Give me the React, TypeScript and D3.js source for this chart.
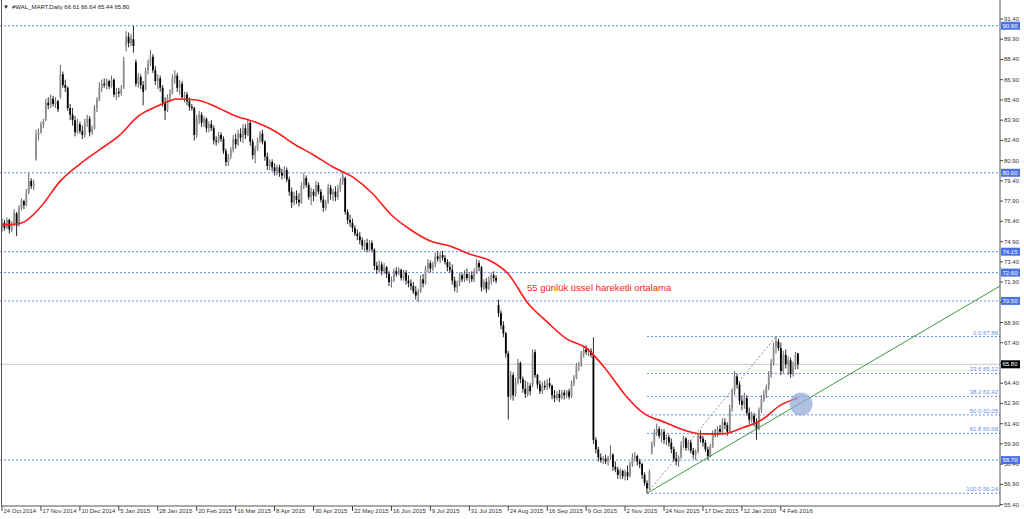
import * as d3 from "d3";

// daily candles [open, high, low, close], one per trading day from 24 Oct 2014
const candles: number[][] = [
  [75.9,76.6,75.6,76.3],[76.3,76.5,75.7,75.9],[75.9,76.7,75.8,76.5],[76.5,76.6,75.5,75.8],
  [75.8,76.4,75.6,76.2],[76.2,77.3,76.0,77.0],[77.0,77.1,75.3,76.1],[76.1,77.6,76.0,77.4],
  [77.4,78.1,77.2,77.9],[77.9,78.0,77.3,77.6],[77.6,78.8,77.5,78.5],[78.5,80.0,78.4,79.4],
  [79.4,79.6,78.8,79.0],[79.0,79.5,78.7,79.2],[81.0,83.2,80.9,82.8],[82.8,83.3,82.4,83.0],
  // 17 Nov 2014
  [83.0,83.8,82.9,83.6],[83.6,84.0,83.3,83.8],[83.9,85.5,83.8,85.2],[85.2,85.6,84.7,85.0],
  [85.0,85.8,84.8,85.5],[85.5,85.7,84.9,85.1],[85.1,85.6,84.8,85.3],[85.3,85.4,84.5,84.7],
  [85.6,88.0,85.5,87.3],[87.3,87.5,86.3,86.5],[86.5,86.9,86.0,86.3],[86.3,86.4,84.6,84.8],
  [84.8,85.1,83.9,84.3],[84.3,84.8,83.5,83.9],[83.9,84.2,82.7,83.0],[83.0,84.0,82.9,83.6],
  // 10 Dec 2014
  [83.6,83.8,82.9,83.1],[83.1,83.5,82.5,82.8],[82.8,84.0,82.6,83.7],[83.7,84.3,83.4,84.0],
  [84.0,84.2,82.7,83.0],[83.0,83.5,82.8,83.3],[83.3,85.0,83.2,84.8],[84.8,85.6,84.5,85.4],
  [85.4,86.7,85.3,86.3],[86.3,86.9,86.0,86.6],[86.6,87.0,86.3,86.5],[86.5,87.0,86.2,86.8],
  [86.8,86.9,86.2,86.4],[86.4,87.2,86.3,86.9],[86.9,87.0,85.6,85.8],[85.8,86.3,85.4,86.0],
  // 5 Jan 2015
  [86.0,86.3,85.6,85.9],[85.9,86.5,85.7,86.2],[86.3,88.6,86.2,88.3],[89.4,90.5,89.0,90.1],
  [90.1,90.4,89.3,89.6],[89.6,90.3,89.4,90.0],[89.9,90.9,88.9,89.4],[88.2,88.4,86.4,86.6],
  [86.6,87.4,86.3,87.1],[87.1,87.3,86.2,86.5],[86.5,86.8,85.0,86.0],[86.2,87.8,86.1,87.6],
  [87.6,88.4,87.3,88.1],[88.1,89.1,87.9,88.6],[88.6,88.8,87.4,87.6],[87.6,87.9,86.5,86.8],
  // 28 Jan 2015
  [86.8,87.3,86.2,87.0],[87.0,87.2,86.0,86.3],[86.3,86.5,84.9,85.2],[85.2,85.6,83.9,84.6],
  [84.6,85.8,84.5,85.6],[85.6,86.2,85.2,85.9],[85.9,87.3,85.8,87.0],[87.0,87.6,86.6,87.2],
  [87.2,87.4,86.0,86.3],[86.3,86.9,85.8,86.6],[86.6,86.8,85.4,85.6],[85.6,86.0,85.2,85.8],
  [85.8,86.0,85.0,85.3],[85.3,85.6,84.6,84.9],[84.9,85.1,84.6,84.8],[84.8,84.9,82.4,82.8],
  // 20 Feb 2015
  [82.8,84.3,82.6,84.0],[84.0,84.6,83.6,84.3],[84.3,84.5,83.4,83.7],[83.7,84.2,83.4,84.0],
  [84.0,84.1,83.0,83.3],[83.3,83.8,83.0,83.6],[83.6,83.9,83.1,83.3],[83.3,83.5,82.1,82.4],
  [82.4,82.7,82.0,82.3],[82.3,83.0,82.2,82.8],[82.8,83.0,82.3,82.5],[82.5,82.7,81.4,81.6],
  [81.6,81.8,80.5,80.8],[80.8,81.4,80.5,81.2],[81.2,81.9,81.0,81.7],[81.7,82.8,81.5,82.5],
  // 16 Mar 2015
  [82.5,82.9,81.8,82.1],[82.1,83.2,82.0,82.9],[82.9,83.3,82.3,82.6],[82.6,83.6,82.2,83.3],
  [83.3,83.6,82.5,82.8],[82.8,84.0,82.7,83.7],[83.7,83.9,82.0,82.3],[82.3,82.5,81.0,81.3],
  [81.3,82.0,80.7,81.8],[81.8,82.6,81.6,82.4],[82.4,83.1,82.2,82.9],[82.9,83.2,82.1,82.3],
  [82.3,82.4,80.9,81.2],[81.2,81.5,80.2,80.5],[80.5,81.0,80.2,80.8],[80.8,81.0,80.1,80.4],
  // 8 Apr 2015
  [80.4,80.7,79.8,80.1],[80.1,80.6,79.8,80.4],[80.4,80.6,79.7,80.0],[80.0,80.3,79.5,79.8],
  [79.8,80.5,79.6,80.2],[80.2,80.4,79.3,79.5],[79.5,79.7,78.3,78.6],[78.6,78.9,77.4,77.8],
  [77.8,78.6,77.6,78.3],[78.3,78.7,77.7,78.0],[78.0,78.5,77.5,77.8],[77.8,79.3,77.7,79.0],
  [79.0,80.0,78.8,79.6],[79.6,79.8,78.9,79.1],[79.1,79.3,78.0,78.2],[78.2,78.9,77.6,78.6],
  // 30 Apr 2015
  [78.6,78.8,77.9,78.3],[78.3,79.4,78.2,79.1],[79.1,79.3,78.4,78.6],[78.6,78.8,77.8,78.0],
  [78.0,78.3,77.1,77.4],[77.4,78.0,77.2,77.8],[77.8,79.2,77.7,78.9],[78.9,79.1,78.0,78.4],
  [78.4,78.8,77.9,78.6],[78.6,79.0,77.9,78.2],[78.2,79.1,78.0,78.8],[78.8,79.6,78.6,79.3],
  [79.3,80.1,79.1,79.8],[79.6,79.7,76.9,77.1],[77.1,77.3,76.2,76.5],[76.5,76.9,76.0,76.3],
  // 22 May 2015
  [76.3,76.6,75.6,75.9],[75.9,76.1,75.3,75.5],[75.5,75.8,75.0,75.3],[75.3,75.6,74.7,75.0],
  [75.0,75.2,74.3,74.6],[74.6,75.0,74.2,74.8],[74.8,75.1,74.1,74.3],[74.3,75.0,74.2,74.8],
  [74.8,75.0,74.1,74.3],[74.3,74.4,72.8,73.1],[73.1,73.4,72.5,72.8],[72.8,73.5,72.6,73.2],
  [73.2,73.4,72.4,72.7],[72.7,73.3,72.5,73.0],[73.0,73.1,72.2,72.5],[72.5,72.7,71.6,71.9],
  // 16 Jun 2015
  [71.9,72.3,71.5,72.0],[72.0,72.9,71.9,72.7],[72.7,73.0,72.3,72.5],[72.5,73.0,72.4,72.8],
  [72.8,72.9,72.0,72.2],[72.2,72.8,72.0,72.6],[72.6,72.8,71.7,72.0],[72.0,72.4,71.5,71.8],
  [71.8,72.1,71.3,71.6],[71.6,71.9,71.0,71.2],[71.2,71.6,70.6,70.9],[70.9,71.4,70.4,71.2],
  [71.2,72.4,71.1,72.1],[72.1,72.5,71.5,71.8],[71.8,73.1,71.7,72.9],[72.9,73.6,72.6,73.3],
  // 9 Jul 2015
  [73.3,73.5,72.6,72.9],[72.9,73.4,72.7,73.2],[73.2,74.1,73.0,73.8],[73.8,74.2,73.4,73.6],
  [73.6,74.1,73.3,73.9],[73.9,74.2,73.5,73.7],[73.7,73.9,73.2,73.4],[73.4,73.6,72.7,73.0],
  [73.0,73.4,72.6,72.8],[72.8,73.2,71.7,72.0],[72.0,72.3,71.2,71.5],[71.5,72.0,71.1,71.8],
  [71.8,72.6,71.6,72.4],[72.4,72.6,71.9,72.1],[72.1,72.8,71.9,72.5],[72.5,72.9,72.0,72.2],
  // 31 Jul 2015
  [72.2,72.6,71.8,72.4],[72.4,72.7,71.9,72.1],[72.1,72.9,71.9,72.7],[72.7,73.6,72.5,73.3],
  [73.3,73.5,72.7,73.0],[73.0,73.1,71.2,71.5],[71.5,72.1,71.3,71.9],[71.9,72.2,71.1,71.4],
  [71.4,72.3,71.3,72.0],[72.0,72.6,71.7,72.4],[72.4,72.7,71.9,72.2],[72.2,72.4,71.8,72.0],
  [70.2,70.6,69.3,69.6],[69.6,69.8,68.4,68.7],[68.7,69.0,67.8,68.1],[68.1,68.2,66.3,66.6],
  // 24 Aug 2015
  [66.6,66.8,61.7,63.4],[63.4,65.3,63.2,65.0],[65.0,65.2,63.1,63.5],[63.6,64.8,63.4,64.5],
  [64.5,66.2,64.3,65.9],[65.9,66.0,64.4,64.7],[64.7,64.9,63.7,64.0],[64.0,64.6,63.3,63.6],
  [63.6,64.5,63.4,64.2],[64.2,64.4,63.5,63.8],[64.3,66.9,64.1,66.7],[66.7,66.9,64.8,65.0],
  [65.0,65.1,64.0,64.3],[64.3,64.6,63.6,63.8],[63.8,64.5,63.6,64.2],[64.2,64.6,63.9,64.1],
  // 16 Sep 2015
  [64.1,64.7,63.9,64.4],[64.4,64.8,64.0,64.2],[64.2,64.3,63.2,63.5],[63.5,63.9,63.0,63.3],
  [63.3,63.8,63.1,63.6],[63.6,63.9,63.0,63.3],[63.3,63.9,63.2,63.7],[63.7,63.9,63.2,63.5],
  [63.5,63.9,63.3,63.8],[63.8,64.0,63.2,63.4],[63.4,64.6,63.3,64.4],[64.4,65.0,64.2,64.8],
  [64.8,65.9,64.7,65.7],[65.7,66.0,65.3,65.8],[65.8,66.8,65.6,66.6],[66.6,67.1,66.3,66.9],
  // 9 Oct 2015
  [66.9,67.2,66.5,66.7],[66.7,67.0,66.4,66.8],[66.8,67.0,66.3,66.5],[66.5,67.8,59.9,60.2],
  [60.2,60.4,59.2,59.5],[59.5,59.7,58.6,58.9],[58.9,59.2,58.5,58.7],[58.7,59.0,58.4,58.8],
  [58.8,59.1,58.4,58.6],[58.6,59.0,58.3,58.9],[58.9,59.8,58.7,59.1],[59.1,59.2,57.9,58.2],
  [58.2,58.6,57.8,58.0],[58.0,58.2,57.3,57.6],[57.6,58.1,57.3,57.9],[57.9,58.0,57.3,57.5],
  // 2 Nov 2015
  [57.5,58.0,57.2,57.8],[57.8,58.3,57.2,57.5],[57.5,58.6,57.4,58.4],[58.4,59.2,58.2,58.9],
  [58.9,59.3,58.6,59.0],[59.0,59.1,58.3,58.6],[58.6,58.8,58.1,58.4],[58.4,58.5,57.3,57.6],
  [57.6,57.8,56.8,57.0],[57.0,57.2,56.24,56.6],[56.6,58.0,56.5,57.8],[59.3,60.1,59.1,59.9],
  [59.9,61.0,59.7,60.7],[60.7,61.4,60.5,61.0],[61.0,61.2,60.3,60.5],[60.5,61.0,60.0,60.8],
  // 24 Nov 2015
  [60.8,61.0,59.9,60.2],[60.2,60.6,59.8,60.4],[60.4,60.6,59.7,60.0],[60.0,60.3,59.2,59.5],
  [59.5,59.7,58.6,58.8],[58.8,59.3,58.3,58.6],[58.6,59.0,58.2,58.9],[58.9,60.1,58.8,59.8],
  [59.8,60.5,59.6,60.3],[60.3,60.4,59.4,59.6],[59.6,60.2,59.4,60.0],[60.0,60.2,59.2,59.4],
  [59.4,59.6,58.8,59.1],[59.1,59.5,58.7,59.3],[59.3,60.7,59.2,60.5],[60.5,60.9,60.0,60.3],
  // 17 Dec 2015
  [60.3,60.5,59.7,60.0],[60.0,60.2,59.3,59.5],[59.5,59.7,58.7,59.0],[59.0,59.9,58.9,59.7],
  [59.7,60.9,59.6,60.7],[60.7,61.0,60.4,60.6],[60.6,61.2,60.4,61.0],[61.0,61.3,60.6,60.8],
  [60.8,61.8,60.7,61.5],[61.5,61.8,61.0,61.3],[61.3,61.5,60.5,60.8],[60.8,62.8,60.7,62.5],
  [62.5,64.0,62.3,63.8],[63.8,65.3,63.5,64.9],[64.9,65.1,64.0,64.3],[64.3,64.5,62.8,63.1],
  // 12 Jan 2016
  [63.1,63.5,62.4,62.8],[62.8,63.7,62.5,63.3],[63.3,63.5,62.0,62.2],[62.2,62.6,61.4,61.7],
  [61.7,62.3,61.5,62.0],[62.0,62.2,61.2,61.5],[61.5,61.8,60.2,61.0],[61.0,62.6,60.9,62.4],
  [62.4,63.5,62.2,63.2],[63.2,63.9,63.0,63.6],[63.6,64.3,63.3,64.1],[64.1,65.3,63.9,65.0],
  [65.0,66.2,64.8,65.9],[65.9,67.4,65.7,67.1],[67.1,67.86,66.6,67.5],[67.5,67.7,66.8,67.0],
  // 4 Feb 2016
  [67.0,67.4,65.0,65.3],[65.3,66.8,65.1,66.5],[66.5,66.9,65.5,65.8],[65.8,66.4,65.0,66.1],
  [66.1,66.3,64.8,65.1],[65.1,66.0,64.9,65.6],[65.6,66.7,65.4,66.5],[66.61,66.64,65.44,65.8],
];

// 55-day EMA, every 8th bar
const emaBars = [0,8,16,24,32,40,48,56,64,72,80,88,96,104,112,120,128,136,144,152,160,168,176,184,192,200,208,216,224,232,240,248,256,264,272,280,288,296,304,312,320,327];
const emaValues = [76.13,76.28,77.5,79.4,80.65,81.7,82.73,84.2,84.95,85.47,85.4,84.88,84.21,83.76,83.1,82.13,81.32,80.43,79.69,78.5,76.87,75.76,74.94,74.57,73.98,73.53,72.5,70.35,68.94,67.68,67.01,65.46,63.53,62.12,61.53,60.93,60.64,60.64,61.08,61.67,62.79,63.31];

const dateLabels = ["24 Oct 2014","17 Nov 2014","10 Dec 2014","5 Jan 2015","28 Jan 2015","20 Feb 2015","16 Mar 2015","8 Apr 2015","30 Apr 2015","22 May 2015","16 Jun 2015","9 Jul 2015","31 Jul 2015","24 Aug 2015","16 Sep 2015","9 Oct 2015","2 Nov 2015","24 Nov 2015","17 Dec 2015","12 Jan 2016","4 Feb 2016"];

const priceTicks = [91.4,89.9,88.4,86.9,85.4,83.9,82.4,80.9,79.4,77.9,76.4,74.9,73.4,71.9,70.4,68.9,67.4,65.9,64.4,62.9,61.4,59.9,58.4,56.9,55.4];

// horizontal support / resistance lines
const levels = [90.9, 80.0, 74.15, 72.6, 70.5, 58.7];

// fibonacci retracement from the Nov low to the Feb high
const fibRatios = ["0.0", "23.6", "38.2", "50.0", "61.8", "100.0"];
const fibPrices = [67.86, 65.12, 63.42, 62.05, 60.68, 56.24];
const fibLowBar = 265;
const fibHighBar = 318;

// trend line from the low, extended to the right edge
const trendBars = [265, 410];
const trendPrices = [56.24, 71.6];

const lastPrice = 65.8;
const markerBar = 328.3;
const markerPrice = 62.85;

const FONT = "'Liberation Sans', Arial, sans-serif";
const BLUE = "#6a8ce8";

export default function App() {
  const width = 1024;
  const height = 519;
  const plotRight = 1000;
  const plotBottom = 506;

  const x = d3.scaleLinear().domain([0, 327]).range([2, 797.9]);
  const y = d3.scaleLinear().domain([55.4, 91.4]).range([504.6, 19]);

  const emaPath = d3
    .line<number>()
    .x((_, i) => x(emaBars[i]))
    .y((d) => y(d))
    .curve(d3.curveMonotoneX)(emaValues);

  const bodyW = 1.8;

  return (
    <svg
      width={width}
      height={height}
      style={{ position: "fixed", top: 0, left: 0, background: "#fff" }}
      fontFamily={FONT}
    >
      <rect width={width} height={height} fill="#fff" />

      {/* level lines */}
      {levels.map((l) => (
        <line key={l} x1={0} x2={plotRight} y1={y(l)} y2={y(l)} stroke={BLUE} strokeWidth={1} strokeDasharray="2,2" />
      ))}
      {/* last price line */}
      <line x1={0} x2={plotRight} y1={y(lastPrice)} y2={y(lastPrice)} stroke="#c8c8c8" strokeWidth={1} />

      {/* fibonacci */}
      {fibPrices.map((p, i) => (
        <g key={p}>
          <line x1={x(fibLowBar)} x2={plotRight} y1={y(p)} y2={y(p)} stroke={BLUE} strokeWidth={1} strokeDasharray="2,2" />
          <text x={plotRight - 2} y={y(p) - 2} textAnchor="end" fontSize={6} fill={BLUE}>
            {fibRatios[i]} {p.toFixed(2)}
          </text>
        </g>
      ))}
      <line
        x1={x(fibLowBar)}
        y1={y(fibPrices[5])}
        x2={x(fibHighBar)}
        y2={y(fibPrices[0])}
        stroke="#8c8c8c"
        strokeWidth={1}
        strokeDasharray="2,2"
      />

      {/* candles */}
      {candles.map(([o, h, l, c], i) => {
        const up = c >= o;
        const top = y(Math.max(o, c));
        const bh = Math.max(0.8, Math.abs(y(o) - y(c)));
        return (
          <g key={i}>
            <line x1={x(i)} x2={x(i)} y1={y(h)} y2={y(l)} stroke={up ? "#555" : "#111"} strokeWidth={0.9} />
            <rect x={x(i) - bodyW / 2} y={top} width={bodyW} height={bh} fill={up ? "#8e8e8e" : "#000"} />
          </g>
        );
      })}

      {/* trend line */}
      <line
        x1={x(trendBars[0])}
        y1={y(trendPrices[0])}
        x2={x(trendBars[1])}
        y2={y(trendPrices[1])}
        stroke="#3c9a3c"
        strokeWidth={1}
      />

      {/* EMA 55 */}
      <path d={emaPath ?? ""} fill="none" stroke="#ff1a1a" strokeWidth={1.6} />
      <text x={527} y={291} fontSize={9.5} fill="#ff2020">
        55 günlük üssel hareketli ortalama
      </text>

      <circle cx={x(markerBar)} cy={y(markerPrice)} r={11.5} fill="#8ea8d8" opacity={0.7} />

      {/* frame and axes */}
      <line x1={1.5} x2={1.5} y1={0} y2={plotBottom} stroke="#555" strokeWidth={1} />
      <line x1={plotRight} x2={plotRight} y1={0} y2={plotBottom} stroke="#555" strokeWidth={1} />
      <line x1={1} x2={plotRight} y1={plotBottom} y2={plotBottom} stroke="#555" strokeWidth={1} />

      {priceTicks.map((t) => (
        <g key={t}>
          <line x1={plotRight} x2={plotRight + 3} y1={y(t)} y2={y(t)} stroke="#444" />
          <text x={plotRight + 4} y={y(t) + 2} fontSize={6} fill="#333">
            {t.toFixed(2)}
          </text>
        </g>
      ))}
      {levels.map((l) => (
        <g key={"b" + l}>
          <rect x={plotRight + 1} y={y(l) - 4} width={19} height={8} fill="#4a72e6" />
          <text x={plotRight + 2.5} y={y(l) + 2} fontSize={6} fill="#fff">
            {l.toFixed(2)}
          </text>
        </g>
      ))}
      <rect x={plotRight + 1} y={y(lastPrice) - 4} width={19} height={8} fill="#000" />
      <text x={plotRight + 2.5} y={y(lastPrice) + 2} fontSize={6} fill="#fff">
        {lastPrice.toFixed(2)}
      </text>

      {dateLabels.map((d, k) => (
        <g key={d}>
          <line x1={x(k * 16)} x2={x(k * 16)} y1={plotBottom} y2={plotBottom + 5} stroke="#444" />
          <text x={x(k * 16) + 1.5} y={513} fontSize={6} fill="#333">
            {d}
          </text>
        </g>
      ))}

      {/* title */}
      <text x={3} y={9} fontSize={6} fill="#222">▼</text>
      <text x={12} y={9} fontSize={6} fill="#222">
        #WAL_MART,Daily  66.61 66.64 65.44 65.80
      </text>
    </svg>
  );
}
